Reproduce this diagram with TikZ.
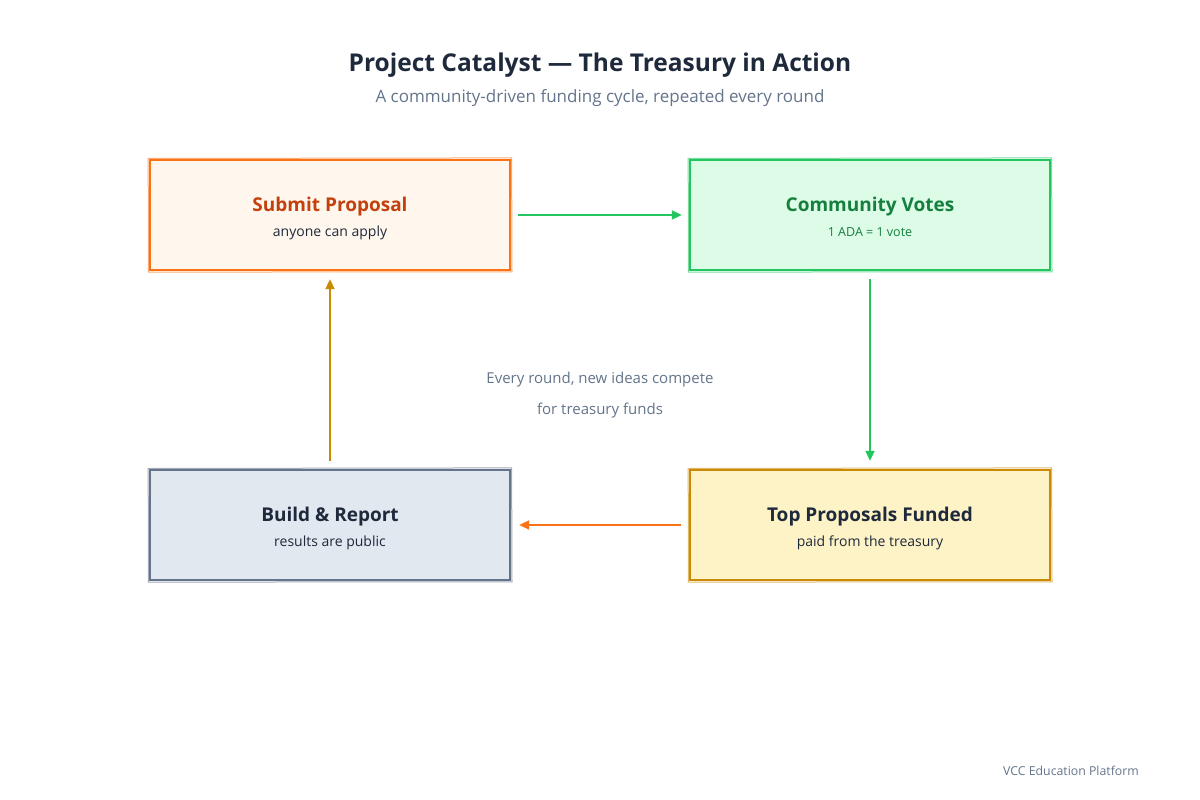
\documentclass[tikz,border=0pt]{standalone}
\usepackage{fontspec}
\setmainfont{Open Sans}
\usepackage{xcolor}
\usetikzlibrary{arrows.meta}
\usetikzlibrary{positioning}

\definecolor{ink}{HTML}{1E293B}
\definecolor{muted}{HTML}{64748B}
\definecolor{orangeline}{HTML}{F97316}
\definecolor{orangefill}{HTML}{FFF7ED}
\definecolor{orangetext}{HTML}{C2410C}
\definecolor{greenline}{HTML}{22C55E}
\definecolor{greenfill}{HTML}{DCFCE7}
\definecolor{greentext}{HTML}{15803D}
\definecolor{slateline}{HTML}{64748B}
\definecolor{slatefill}{HTML}{E2E8F0}
\definecolor{goldline}{HTML}{CA8A04}
\definecolor{goldfill}{HTML}{FEF3C7}

\begin{document}
\begin{tikzpicture}[x=1pt, y=-1pt,
	stagebox/.style={draw, rectangle, line width=2.4pt, minimum width=360pt, minimum height=110pt, inner sep=0pt},
	heading/.style={inner sep=0pt, font=\fontsize{19}{22}\selectfont\bfseries},
	detail/.style={inner sep=0pt, text=ink, font=\fontsize{14}{16}\selectfont},
	flow/.style={line width=2pt, -{Triangle[length=10pt, width=9pt]}},
	plain/.style={inner sep=0pt, text=muted}]
	\useasboundingbox (0,0) rectangle (1200,800);

	% titles
	\node[inner sep=0pt, text=ink, font=\fontsize{24.5}{28}\selectfont\bfseries] (title) at (600,65) {Project Catalyst --- The Treasury in Action};
	\node[plain, font=\fontsize{17}{20}\selectfont] (subtitle) at (600,98) {A community-driven funding cycle, repeated every round};

	% the four stages
	\node[stagebox, draw=orangeline, fill=orangefill] (submit) at (330,215) {};
	\node[stagebox, draw=greenline, fill=greenfill] (votes) at (870,215) {};
	\node[stagebox, draw=goldline, fill=goldfill] (funded) at (870,525) {};
	\node[stagebox, draw=slateline, fill=slatefill] (build) at (330,525) {};

	% second, slightly crooked stroke for the sketched look
	\foreach \n/\c in {submit/orangeline, votes/greenline, funded/goldline, build/slateline}
	{
		\draw[\c, line width=1pt, opacity=0.6] ([shift={(-0.6,-0.3)}]\n.north west) -- ([shift={(0.4,-0.9)}]\n.north east)
			-- ([shift={(0.8,0.6)}]\n.south east) -- ([shift={(-0.4,0.9)}]\n.south west) -- cycle;
	}

	% texts of the stages
	\node[heading, text=orangetext] (submit-head) at (330,207) {Submit Proposal};
	\node[detail] (submit-note) at (330,233) {anyone can apply};
	\node[heading, text=greentext] (votes-head) at (870,207) {Community Votes};
	\node[detail, text=greentext, font=\fontsize{12.5}{16}\selectfont] (votes-note) at (870,232) {1 ADA = 1 vote};
	\node[heading, text=ink] (funded-head) at (870,517) {Top Proposals Funded};
	\node[detail] (funded-note) at (870,543) {paid from the treasury};
	\node[heading, text=ink] (build-head) at (330,517) {Build \& Report};
	\node[detail] (build-note) at (330,543) {results are public};

	% cycle
	\draw[flow, greenline] ([xshift=7pt]submit.east) -- ([xshift=-7pt]votes.west);
	\draw[flow, greenline] ([yshift=-8pt]votes.south) -- ([yshift=8pt]funded.north);
	\draw[flow, orangeline] ([xshift=-8pt]funded.west) -- ([xshift=8pt]build.east);
	\draw[flow, goldline] ([yshift=8pt]build.north) -- ([yshift=-8pt]submit.south);

	% note in the middle
	\node[plain, font=\fontsize{15}{18}\selectfont] (note1) at (600,380) {Every round, new ideas compete};
	\node[plain, font=\fontsize{15}{18}\selectfont] (note2) at (600,411) {for treasury funds};

	\node[plain, font=\fontsize{12.3}{14}\selectfont] (footer) at (1071,771) {VCC Education Platform};
\end{tikzpicture}
\end{document}
